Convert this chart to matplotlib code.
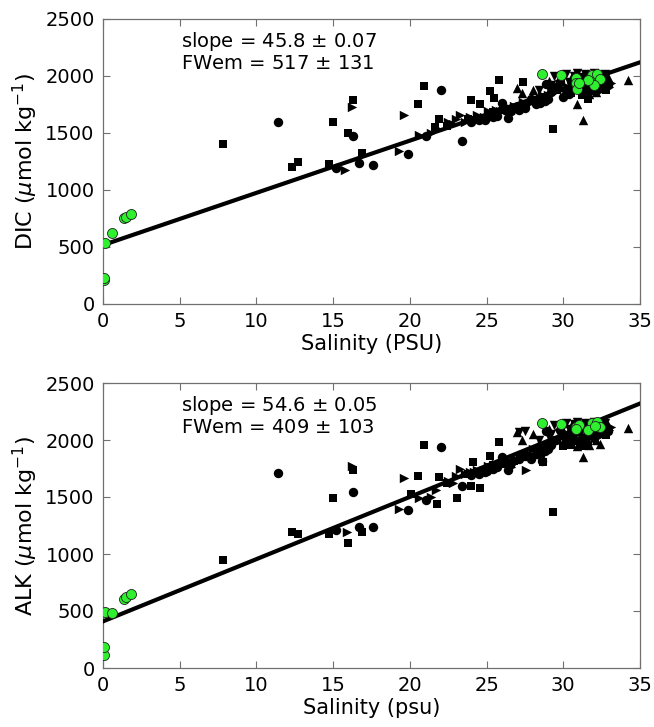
import matplotlib
matplotlib.use("Agg")
import matplotlib.pyplot as plt
import numpy as np

# ---- DIC panel data (salinity, DIC) ----
dic_sq_s = [7.8, 12.3, 12.7, 14.7, 15.0, 16.0, 16.3, 16.9, 20.5, 20.9, 21.65, 21.9, 24.0, 24.6, 25.2, 25.5, 25.8, 29.3,
            27.4, 26.8, 27.6, 28.5, 29.6, 30.5, 31.2, 31.6, 32.8, 22.4, 23.8, 25.4, 26.1]
dic_sq_y = [1400, 1205, 1243, 1228, 1596, 1497, 1789, 1322, 1754, 1912, 1556, 1620, 1789, 1754, 1871, 1804, 1965, 1532,
            1950, 1720, 1740, 1800, 1880, 1850, 1830, 1800, 1880, 1560, 1620, 1680, 1700]
dic_ci_s = [11.4, 15.2, 16.3, 16.7, 17.6, 19.9, 21.05, 22.0, 23.4, 24.5, 25.0, 25.7, 26.2, 26.4, 27.5, 28.2, 28.8, 29.2,
            29.5, 30.0, 30.2, 30.6, 31.2, 31.8, 32.4, 32.6, 29.8, 28.9, 27.9, 26.0,
            24.0, 24.9, 25.4, 26.6, 27.1, 28.5, 29.0, 30.4, 31.4, 32.0, 32.9]
dic_ci_y = [1596, 1196, 1474, 1234, 1222, 1316, 1477, 1877, 1433, 1610, 1640, 1650, 1700, 1630, 1720, 1750, 1780, 1860,
            1900, 1820, 1880, 1930, 1870, 1880, 1900, 1950, 1950, 1930, 1800, 1760,
            1600, 1610, 1640, 1690, 1700, 1760, 1800, 1840, 1880, 1900, 1920]
dic_rt_s = [22.5, 23.0, 23.3, 23.6, 24.2, 24.8, 25.3, 25.9, 26.5, 27.2, 27.8, 28.3, 29.0, 29.6, 30.3, 31.0, 31.6, 32.2,
            32.8, 33.0, 19.3, 15.8, 16.2, 19.6, 20.6, 21.4, 21.7, 22.8,
            23.9, 24.4, 25.1, 25.6, 26.0, 26.8, 27.4, 28.0, 28.6, 29.3, 29.9, 30.6, 31.3, 31.9, 32.5, 32.9, 33.1]
dic_rt_y = [1600, 1620, 1658, 1600, 1620, 1640, 1660, 1690, 1720, 1740, 1760, 1790, 1830, 1870, 1900, 1910, 1900, 1920,
            1930, 1900, 1345, 1175, 1725, 1658, 1482, 1500, 1540, 1580,
            1640, 1660, 1690, 1700, 1690, 1740, 1770, 1790, 1830, 1870, 1890, 1880, 1940, 1950, 1880, 1960, 1940]
dic_up_s = [27.0, 30.9, 31.3, 34.2, 27.3, 28.0, 29.1, 30.5, 31.5, 32.3, 32.9, 30.1, 31.7, 32.1]
dic_up_y = [1892, 1754, 1614, 1965, 1850, 1880, 1960, 1980, 2010, 2010, 1990, 1860, 1840, 1860]
dic_dn_s = [29.4, 30.2, 30.9, 31.4, 32.0, 32.7, 31.0, 32.5, 29.0, 30.4, 31.9,
            29.7, 30.0, 30.7, 31.2, 31.7, 32.3, 32.6, 30.5, 29.2, 28.4, 31.5]
dic_dn_y = [2000, 2020, 2030, 2020, 2030, 2020, 1960, 1960, 1900, 1950, 1990,
            1930, 1980, 2000, 1990, 1930, 1990, 1910, 1900, 1920, 1880, 1870]
dic_gr_s = [0.05, 0.05, 0.15, 0.6, 1.4, 1.5, 1.8, 28.6, 29.85, 30.8, 30.8, 30.9, 31.85, 32.2, 32.4, 32.0, 31.6, 31.0]
dic_gr_y = [210, 225, 532, 620, 751, 760, 792, 2018, 2009, 1980, 1941, 1883, 2009, 2018, 1971, 1921, 1965, 1941]

# ---- ALK panel data (salinity, ALK) ----
alk_sq_s = [7.8, 12.3, 12.7, 14.7, 15.0, 16.0, 16.3, 16.9, 20.05, 20.5, 20.9, 21.75, 21.9, 23.1, 24.0, 24.1, 24.6, 25.2,
            25.8, 28.7, 29.3, 26.8, 27.6, 28.5, 29.6, 30.5, 31.2, 31.6, 32.8, 22.4, 23.8, 25.4, 26.1, 30.0, 30.8]
alk_sq_y = [944, 1193, 1173, 1178, 1488, 1096, 1734, 1190, 1529, 1681, 1959, 1436, 1675, 1488, 1599, 1810, 1576, 1857,
            1980, 1810, 1366, 1820, 1860, 1920, 2000, 1960, 1950, 1960, 2040, 1620, 1700, 1780, 1790, 1950, 1990]
alk_ci_s = [11.4, 15.2, 16.3, 16.7, 17.6, 19.9, 21.05, 22.0, 23.4, 24.5, 25.0, 25.7, 26.2, 26.4, 27.5, 28.2, 28.8, 29.2,
            29.5, 30.0, 30.2, 30.6, 31.2, 31.8, 32.4, 32.6, 29.8, 28.9, 27.9, 26.0, 28.6,
            24.0, 24.9, 25.4, 26.6, 27.1, 28.5, 29.0, 30.4, 31.4, 32.0, 32.9]
alk_ci_y = [1711, 1213, 1541, 1234, 1234, 1383, 1477, 1939, 1594, 1700, 1730, 1760, 1800, 1740, 1860, 1880, 1900, 1960,
            2000, 2050, 1990, 2060, 2020, 2040, 2060, 2110, 2090, 2080, 1830, 1850, 1820,
            1690, 1720, 1750, 1800, 1830, 1870, 1920, 1990, 2000, 2020, 2080]
alk_rt_s = [15.9, 16.2, 19.3, 19.6, 20.6, 23.3, 22.5, 23.0, 23.6, 24.2, 24.8, 25.3, 25.9, 26.5, 27.2, 27.8, 28.3, 29.0,
            29.6, 30.3, 31.0, 31.6, 32.2, 32.8, 33.0, 21.4, 21.7, 22.8, 26.6, 27.6,
            23.9, 24.4, 25.1, 25.6, 26.0, 26.8, 27.4, 28.0, 28.6, 29.3, 29.9, 30.6, 31.3, 31.9, 32.5, 32.9, 33.1]
alk_rt_y = [1190, 1769, 1395, 1667, 1490, 1746, 1640, 1680, 1700, 1720, 1740, 1760, 1790, 1820, 1850, 1880, 1900, 1960,
            1990, 2040, 2060, 2050, 2080, 2100, 2090, 1500, 1560, 1620, 1760, 1740,
            1720, 1740, 1770, 1790, 1800, 1840, 1870, 1920, 1960, 2000, 2030, 2020, 2090, 2100, 2040, 2120, 2110]
alk_up_s = [27.0, 30.9, 31.3, 32.4, 34.2, 27.3, 28.0, 29.1, 30.5, 31.5, 32.3, 32.9, 30.1, 31.7, 32.1]
alk_up_y = [2067, 1950, 1851, 1968, 2105, 2000, 2050, 2100, 2120, 2150, 2150, 2130, 1990, 1960, 2000]
alk_dn_s = [29.4, 30.2, 30.9, 31.4, 32.0, 32.7, 31.0, 32.5, 29.0, 30.4, 31.9, 27.5, 27.1,
            29.7, 30.0, 30.7, 31.2, 31.7, 32.3, 32.6, 30.5, 29.2, 28.4, 31.5]
alk_dn_y = [2130, 2150, 2160, 2150, 2160, 2150, 2080, 2080, 2040, 2100, 2120, 2080, 2070,
            2060, 2110, 2140, 2120, 2070, 2130, 2050, 2030, 2050, 2000, 2010]
alk_gr_s = [0.05, 0.05, 0.15, 0.6, 1.4, 1.5, 1.8, 28.6, 29.85, 30.8, 31.0, 30.8, 31.85, 32.2, 32.4, 31.6, 32.05]
alk_gr_y = [117, 184, 488, 482, 608, 620, 652, 2152, 2140, 2117, 2130, 2094, 2152, 2160, 2117, 2088, 2123]

# fit results (slope, intercept) and label text
dic_fit = (45.8, 517)
alk_fit = (54.6, 409)
dic_text = ["slope = 45.8 $\\pm$ 0.07", "FWem = 517 $\\pm$ 131"]
alk_text = ["slope = 54.6 $\\pm$ 0.05", "FWem = 409 $\\pm$ 103"]
fit_x = [0, 35]

GREEN = "#2ef02e"
SPINE = "#707070"


def draw_panel(ax, sq, ci, rt, up, dn, gr, fit, lines, ylabel, xlabel):
    ax.scatter(*sq, marker="s", s=28, color="black", linewidths=0, zorder=2)
    ax.scatter(*ci, marker="o", s=46, color="black", linewidths=0, zorder=2)
    ax.scatter(*rt, marker=">", s=46, color="black", linewidths=0, zorder=2)
    ax.scatter(*up, marker="^", s=46, color="black", linewidths=0, zorder=2)
    ax.scatter(*dn, marker="v", s=46, color="black", linewidths=0, zorder=2)
    slope, icpt = fit
    ax.plot(fit_x, [icpt + slope * x for x in fit_x], color="black", linewidth=3.0, zorder=3)
    ax.scatter(*gr, marker="o", s=52, facecolor=GREEN, edgecolor="#202020", linewidths=0.6, zorder=4)
    ax.text(5.1, 2300, lines[0], fontsize=14, va="center", ha="left")
    ax.text(5.1, 2110, lines[1], fontsize=14, va="center", ha="left")
    ax.set_xlim(0, 35)
    ax.set_ylim(0, 2500)
    ax.set_xticks(np.arange(0, 36, 5))
    ax.set_yticks(np.arange(0, 2501, 500))
    ax.tick_params(direction="in", top=True, right=True, length=5, width=0.8,
                   labelsize=14, color=SPINE, pad=6)
    for sp in ax.spines.values():
        sp.set_color(SPINE)
        sp.set_linewidth(0.9)
    ax.set_ylabel(ylabel, fontsize=16, labelpad=4)
    ax.set_xlabel(xlabel, fontsize=15, labelpad=2)


fig = plt.figure(figsize=(6.54, 7.27), dpi=100)
ax1 = fig.add_axes([103 / 654, 1 - 304 / 727, 537 / 654, 285 / 727])
ax2 = fig.add_axes([103 / 654, 1 - 668 / 727, 537 / 654, 285 / 727])

draw_panel(ax1, (dic_sq_s, dic_sq_y), (dic_ci_s, dic_ci_y), (dic_rt_s, dic_rt_y), (dic_up_s, dic_up_y),
           (dic_dn_s, dic_dn_y), (dic_gr_s, dic_gr_y), dic_fit, dic_text,
           r"DIC ($\mu$mol kg$^{\mathregular{-1}}$)", "Salinity (PSU)")
draw_panel(ax2, (alk_sq_s, alk_sq_y), (alk_ci_s, alk_ci_y), (alk_rt_s, alk_rt_y), (alk_up_s, alk_up_y),
           (alk_dn_s, alk_dn_y), (alk_gr_s, alk_gr_y), alk_fit, alk_text,
           r"ALK ($\mu$mol kg$^{\mathregular{-1}}$)", "Salinity (psu)")

fig.savefig("out.png", dpi=100)
plt.close(fig)
